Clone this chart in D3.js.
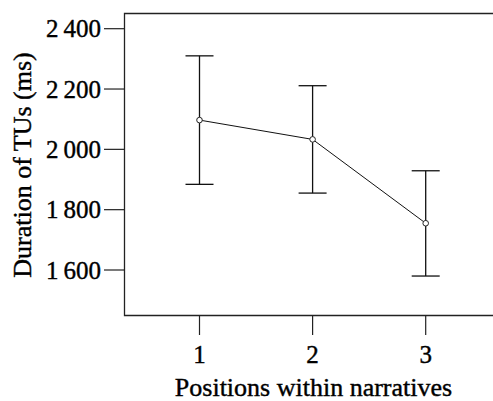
<!DOCTYPE html>
<html>
<head>
<meta charset="utf-8"/>
<script src="https://d3js.org/d3.v7.min.js"></script>
<style>
body { margin: 0; background: #fff; }
</style>
</head>
<body>
<script>
// chart data
var positions = [1, 2, 3];
var means = [2097, 2033, 1755];
var upper = [2310, 2211, 1929];
var lower = [1884, 1855, 1580];
var yTicks = [1600, 1800, 2000, 2200, 2400];

var width = 493,
    height = 401,
    plotLeft = 124.5,
    plotTop = 13.5,
    plotBottom = 315.5,
    serif = "'Liberation Serif'";

var svg = d3.select("body").append("svg")
    .attr("width", width)
    .attr("height", height);

var y = d3.scaleLinear()
    .domain([1600, 2400])
    .range([270, 28.7]);

var x = d3.scaleLinear()
    .domain([1, 3])
    .range([199.5, 425.7]);

// frame (right side runs off the canvas)
svg.append("path")
   .attr("d", "M" + (width + 5) + "," + plotTop + "H" + plotLeft + "V" + plotBottom + "H" + (width + 5))
   .attr("fill", "none")
   .attr("stroke", "#222")
   .attr("stroke-width", 1.3);

// y axis ticks
var yAxis = svg.append("g");
yAxis.selectAll("line")
     .data(yTicks)
     .enter().append("line")
     .attr("x1", 104).attr("x2", plotLeft)
     .attr("y1", function(d) { return y(d); })
     .attr("y2", function(d) { return y(d); })
     .attr("stroke", "#222")
     .attr("stroke-width", 1.2);
yAxis.selectAll("text")
     .data(yTicks)
     .enter().append("text")
     .attr("x", 101)
     .attr("y", function(d) { return y(d); })
     .attr("dy", "0.34em")
     .attr("text-anchor", "end")
     .style("font-family", serif)
     .style("font-size", "25px")
     .style("stroke", "#000")
     .style("stroke-width", 0.4)
     .text(function(d) { return d3.format(",")(d).replace(",", "\u2009"); });

// x axis ticks
var xAxis = svg.append("g");
xAxis.selectAll("line")
     .data(positions)
     .enter().append("line")
     .attr("x1", function(d) { return x(d); })
     .attr("x2", function(d) { return x(d); })
     .attr("y1", plotBottom).attr("y2", 335)
     .attr("stroke", "#222")
     .attr("stroke-width", 1.2);
xAxis.selectAll("text")
     .data(positions)
     .enter().append("text")
     .attr("x", function(d) { return x(d); })
     .attr("y", 363)
     .attr("text-anchor", "middle")
     .style("font-family", serif)
     .style("font-size", "25px")
     .style("stroke", "#000")
     .style("stroke-width", 0.4)
     .text(function(d) { return d; });

// axis titles
svg.append("text")
   .attr("x", 313.5)
   .attr("y", 395.5)
   .attr("text-anchor", "middle")
   .style("font-family", serif)
   .style("font-size", "26px")
   .style("stroke", "#000")
   .style("stroke-width", 0.4)
   .text("Positions within narratives");

svg.append("text")
   .attr("transform", "translate(31,165) rotate(-90)")
   .attr("text-anchor", "middle")
   .style("font-family", serif)
   .style("font-size", "26px")
   .style("stroke", "#000")
   .style("stroke-width", 0.4)
   .text("Duration of TUs (ms)");

// error bars
var bars = svg.append("g")
    .attr("stroke", "#111")
    .attr("stroke-width", 1.3);

positions.forEach(function(p, i) {
    var cx = x(p);
    bars.append("line")
        .attr("x1", cx).attr("x2", cx)
        .attr("y1", y(upper[i])).attr("y2", y(lower[i]));
    bars.append("line")
        .attr("x1", cx - 14).attr("x2", cx + 14)
        .attr("y1", y(upper[i])).attr("y2", y(upper[i]));
    bars.append("line")
        .attr("x1", cx - 14).attr("x2", cx + 14)
        .attr("y1", y(lower[i])).attr("y2", y(lower[i]));
});

// mean line
var line = d3.line()
    .x(function(d, i) { return x(positions[i]); })
    .y(function(d) { return y(d); });

svg.append("path")
   .datum(means)
   .attr("d", line)
   .attr("fill", "none")
   .attr("stroke", "#111")
   .attr("stroke-width", 1);

svg.selectAll(".pt")
   .data(means)
   .enter().append("circle")
   .attr("class", "pt")
   .attr("cx", function(d, i) { return x(positions[i]); })
   .attr("cy", function(d) { return y(d); })
   .attr("r", 2.8)
   .attr("fill", "#fff")
   .attr("stroke", "#222")
   .attr("stroke-width", 1);
</script>
</body>
</html>
